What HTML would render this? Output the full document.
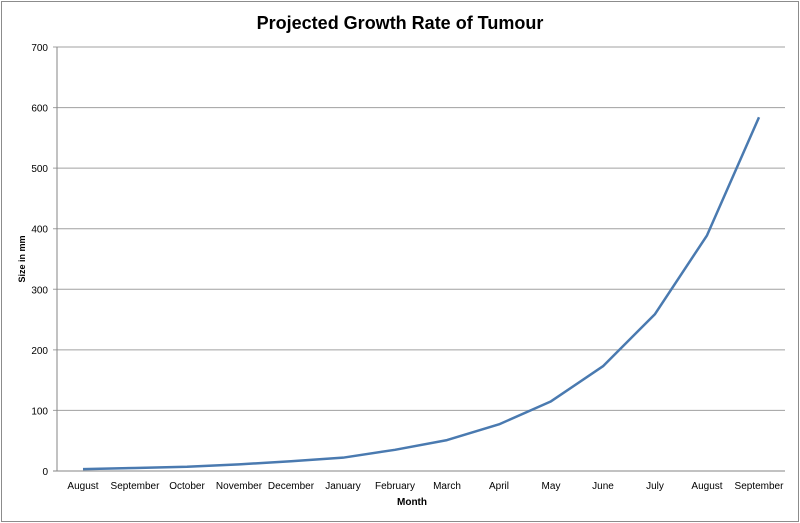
<!DOCTYPE html>
<html><head><meta charset="utf-8"><style>
html,body{margin:0;padding:0;background:#fff;}
svg{display:block;font-family:"Liberation Sans",sans-serif;}
</style></head><body>
<svg id="chart" width="800" height="523" viewBox="0 0 800 523">
<rect x="1.5" y="1.5" width="797" height="520" fill="#fff" stroke="#8c8c8c"/>
<text x="400" y="29" text-anchor="middle" font-size="18" font-weight="bold" fill="#000">Projected Growth Rate of Tumour</text>
<g id="grid"></g>
<g id="yticks"></g>
<g id="xlabels"></g>
<path id="line" fill="none" stroke="#4a7ab0" stroke-width="2.5" stroke-linejoin="round"/>
<text x="412" y="505" text-anchor="middle" font-size="10" font-weight="bold">Month</text>
<text transform="translate(25,259) rotate(-90)" text-anchor="middle" font-size="9" font-weight="bold">Size in mm</text>
</svg>
<script>
const categories=["August","September","October","November","December","January","February","March","April","May","June","July","August","September"];
const values=[3,5,7,11,16,22,35,51,77,115,173,259,389,584];
const yTicks=[0,100,200,300,400,500,600,700];
const NS="http://www.w3.org/2000/svg";
const L=57,R=785,T=47,B=471,yMax=700;
const y=v=>B-(v/yMax)*(B-T);
const bw=(R-L)/categories.length;
const x=i=>L+bw*(i+0.5);
function mk(tag,attrs,parent){const e=document.createElementNS(NS,tag);for(const k in attrs)e.setAttribute(k,attrs[k]);parent.appendChild(e);return e;}
const grid=document.getElementById('grid'),yt=document.getElementById('yticks'),xl=document.getElementById('xlabels');
yTicks.forEach(t=>{
  const ln=mk('line',{x1:L-4,x2:R,y1:y(t),y2:y(t),stroke:t===0?'#868686':'#a0a0a0','stroke-width':1},grid);
  
  
  const tx=mk('text',{x:L-9,y:y(t)+4,'text-anchor':'end','font-size':10,fill:'#000'},yt);
  tx.textContent=t;
  
  
});
const ax=mk('line',{x1:L,x2:L,y1:T,y2:B,stroke:'#868686','stroke-width':1},grid);


categories.forEach((c,i)=>{
  const tx=mk('text',{x:x(i),y:489,'text-anchor':'middle','font-size':10,fill:'#000'},xl);
  tx.textContent=c;
  
  
});
document.getElementById('line').setAttribute('d',values.map((v,i)=>(i?'L':'M')+x(i)+' '+y(v)).join(' '));
</script>
</body></html>
